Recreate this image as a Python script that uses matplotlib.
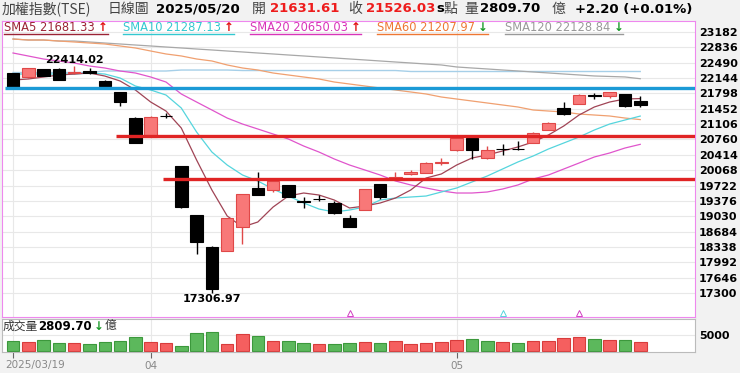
import matplotlib
matplotlib.use('Agg')
import matplotlib.pyplot as plt
from matplotlib.lines import Line2D
from matplotlib.transforms import blended_transform_factory

W, H = 740, 373
CJK = ['Noto Sans CJK TC', 'DejaVu Sans']

# daily candles 2025/03/19 .. 2025/05/20 (42 sessions)
opens = [22251, 22161, 22341, 22341, 22250, 22305, 22085, 21837, 21250, 20822,
         21300, 20162, 19057, 18343, 18252, 18780, 19673, 19621, 19733, 19370,
         19420, 19334, 18996, 19170, 19749, 19890, 19975, 20011, 20230, 20522,
         20800, 20335, 20555, 20545, 20687, 20973, 21462, 21559, 21760, 21739,
         21785, 21631.61]
highs = [22260, 22370, 22350, 22360, 22414.02, 22377, 22090, 21840, 21260, 21290,
         21356, 20170, 19060, 18365, 19000, 19540, 20020, 19840, 19740, 19470,
         19508, 19380, 19050, 19650, 19760, 20020, 20070, 20245, 20342, 20810,
         20860, 20610, 20658, 20732, 20930, 21150, 21611, 21775, 21814, 21830,
         21790, 21740]
lows = [21940, 22150, 22180, 22090, 22229, 22229, 21960, 21514, 20680, 20815,
        21243, 19208, 18178, 17306.97, 18240, 18403, 19500, 19576, 19460, 19208,
        19373, 19080, 18780, 19160, 19410, 19885, 19970, 20000, 20184, 20510,
        20313, 20330, 20410, 20530, 20680, 20965, 21320, 21550, 21665, 21688,
        21490, 21500]
closes = [21949, 22364, 22190, 22100, 22280, 22255, 21965, 21597, 20687, 21259,
          21289, 19231, 18455, 17382, 18983, 19531, 19508, 19830, 19470, 19357,
          19411, 19109, 18793, 19636, 19470, 19914, 20033, 20236, 20250, 20800,
          20530, 20515, 20548, 20540, 20912, 21138, 21327, 21762, 21746, 21823,
          21523.83, 21526.03]

# volume (億) and its colour (r = up day, g = down day)
volumes = [3219, 2812, 3437, 2500, 2500, 2281, 2719, 3219, 4281, 2812,
           2500, 1562, 5625, 5844, 2187, 5219, 4687, 3031, 3031, 2500,
           2187, 2187, 2500, 2812, 2500, 3031, 2281, 2500, 2719, 3437,
           3854, 3219, 2719, 2500, 3031, 3031, 4062, 4281, 3656, 3437,
           3437, 2809.70]
vol_dir = ['g', 'r', 'g', 'g', 'r', 'g', 'g', 'g', 'g', 'r',
           'r', 'g', 'g', 'g', 'r', 'r', 'g', 'r', 'g', 'g',
           'r', 'g', 'g', 'r', 'g', 'r', 'r', 'r', 'r', 'r',
           'g', 'g', 'r', 'g', 'r', 'r', 'r', 'r', 'g', 'r',
           'g', 'r']

sma5 = [22100, 22123, 22168, 22213, 22235, 22258, 22190, 22078, 21875, 21604,
        21401, 21018, 20297, 19621, 19035, 18787, 18899, 19237, 19485, 19553,
        19508, 19395, 19215, 19260, 19328, 19440, 19621, 19891, 19982, 20184,
        20342, 20410, 20500, 20590, 20703, 20861, 21063, 21311, 21492, 21604,
        21672, 21681.33]
sma10 = [22235, 22235, 22235, 22235, 22235, 22258, 22235, 22145, 21965, 21875,
         21762, 21469, 20928, 20477, 20184, 19959, 19824, 19643, 19485, 19328,
         19192, 19125, 19170, 19237, 19395, 19440, 19463, 19485, 19576, 19666,
         19801, 19936, 20094, 20252, 20387, 20545, 20680, 20815, 20973, 21108,
         21198, 21287.13]
sma20 = [22709, 22641, 22573, 22528, 22483, 22416, 22371, 22303, 22258, 22168,
         22055, 21785, 21604, 21424, 21243, 21108, 20996, 20883, 20770, 20612,
         20477, 20320, 20184, 20072, 19959, 19824, 19734, 19666, 19599, 19553,
         19553, 19576, 19643, 19734, 19869, 19959, 20094, 20229, 20365, 20455,
         20567, 20650.03]
sma60 = [23024, 23002, 23002, 22979, 22957, 22934, 22912, 22867, 22822, 22754,
         22687, 22642, 22574, 22529, 22439, 22371, 22326, 22258, 22213, 22168,
         22123, 22055, 22010, 21965, 21920, 21875, 21830, 21785, 21717, 21672,
         21627, 21582, 21537, 21492, 21424, 21401, 21379, 21334, 21311, 21289,
         21243, 21207.97]
sma120 = [23024, 23002, 23002, 22979, 22979, 22957, 22934, 22912, 22889, 22867,
          22844, 22822, 22799, 22777, 22754, 22732, 22709, 22687, 22664, 22642,
          22619, 22597, 22574, 22552, 22529, 22506, 22484, 22461, 22439, 22394,
          22371, 22349, 22326, 22304, 22281, 22259, 22236, 22214, 22191, 22180,
          22169, 22128.84]
long_line = [22269, 22269, 22269, 22269, 22269, 22269, 22303, 22303, 22303, 22303,
             22303, 22325, 22325, 22325, 22325, 22314, 22314, 22314, 22314, 22314,
             22314, 22314, 22314, 22314, 22314, 22314, 22292, 22292, 22292, 22292,
             22292, 22292, 22292, 22292, 22292, 22292, 22292, 22292, 22292, 22292,
             22292, 22292]

# horizontal support / resistance lines
blue_level = 21913
red_levels = [20845, 19869]
red_starts = [6.7, 9.8]

y_ticks = [17300, 17646, 17992, 18338, 18684, 19030, 19376, 19722, 20068,
           20414, 20760, 21106, 21452, 21798, 22144, 22490, 22836, 23182]
x_ticks = [0, 9, 29]
x_labels = ['', '04', '05']
up_marks_mag = [22, 37]
up_marks_cyan = [32]

x = list(range(len(closes)))
xlim = (-0.72, 44.58)

fig = plt.figure(figsize=(W / 100, H / 100), dpi=100)
fig.patch.set_facecolor('#f2f2f2')

ax = fig.add_axes([2 / W, 1 - 316.7 / H, 693 / W, 296 / H])
ax.set_facecolor('white')
ax.set_xlim(*xlim)
ax.set_ylim(16765, 23437)
for s in ax.spines.values():
    s.set_color('#ee88ee')
ax.set_xticks([])
ax.yaxis.tick_right()
ax.set_yticks(y_ticks)
ax.set_yticklabels([str(v) for v in y_ticks], fontsize=8, fontweight='bold')
ax.tick_params(axis='y', length=0, pad=3)
for v in y_ticks:
    ax.axhline(v, color='#e8e8e8', lw=0.8, zorder=0)
for v in x_ticks:
    ax.axvline(v, color='#e8e8e8', lw=0.8, zorder=0)

# moving averages
ax.plot(x, long_line, color='#a6cfe8', lw=1, zorder=1)
ax.plot(x, sma120, color='#a8a8a8', lw=0.9, zorder=1)
ax.plot(x, sma60, color='#f0a070', lw=0.9, zorder=1)
ax.plot(x, sma20, color='#e055cc', lw=0.9, zorder=1)
ax.plot(x, sma10, color='#55d5dd', lw=0.9, zorder=1)
ax.plot(x, sma5, color='#a04455', lw=0.9, zorder=1)

# candles
for i in x:
    o, c = opens[i], closes[i]
    up = c > o
    face = '#f87878' if up else 'black'
    edge = '#e04848' if up else 'black'
    ax.vlines(i, lows[i], highs[i], color=edge, lw=1, zorder=2)
    ax.bar(i, max(abs(c - o), 8), bottom=min(o, c), width=0.82,
           color=face, edgecolor=edge, lw=0.8, zorder=3)

ax.hlines(blue_level, -0.5, xlim[1], color='#1b9ad6', lw=2.4, zorder=4)
for lv, st in zip(red_levels, red_starts):
    ax.hlines(lv, st, xlim[1], color='#e02424', lw=2.4, zorder=4)

ax.annotate('22414.02', (4, highs[4]), xytext=(0, 0.5), textcoords='offset points',
            ha='center', va='bottom', fontsize=8, fontweight='bold', zorder=5)
ax.annotate('17306.97', (13, lows[13]), xytext=(0, -1), textcoords='offset points',
            ha='center', va='top', fontsize=8, fontweight='bold', zorder=5)

bt = blended_transform_factory(ax.transData, ax.transAxes)
ax.plot(up_marks_mag, [0.012] * len(up_marks_mag), transform=bt, ls='none',
        marker='^', ms=5, mfc='none', mec='#d040c0', mew=0.7, clip_on=False)
ax.plot(up_marks_cyan, [0.012] * len(up_marks_cyan), transform=bt, ls='none',
        marker='^', ms=5, mfc='none', mec='#55d5dd', mew=0.7, clip_on=False)

# volume panel
axv = fig.add_axes([2 / W, 1 - 351.7 / H, 693 / W, 32.4 / H])
axv.set_facecolor('white')
axv.set_xlim(*xlim)
axv.set_ylim(-220, 9906)
for s in axv.spines.values():
    s.set_color('#bbbbbb')
axv.axhline(5000, color='#e8e8e8', lw=0.8, zorder=0)
for v in x_ticks:
    axv.axvline(v, color='#e8e8e8', lw=0.8, zorder=0)
vface = ['#f55f5f' if d == 'r' else '#5cb85c' for d in vol_dir]
vedge = ['#d83c3c' if d == 'r' else '#3c983c' for d in vol_dir]
axv.bar(x, volumes, width=0.82, color=vface, edgecolor=vedge, lw=0.8, zorder=2)
axv.yaxis.tick_right()
axv.set_yticks([5000])
axv.set_yticklabels(['5000'], fontsize=8, fontweight='bold')
axv.tick_params(axis='y', length=0, pad=3)
axv.set_xticks(x_ticks)
axv.set_xticklabels(x_labels, fontsize=7.5, color='#888888')
axv.tick_params(axis='x', length=4, color='#666666', pad=2.5)
fig.text(5 / W, 1 - 365 / H, '2025/03/19', fontsize=7.5, color='#888888',
         ha='left', va='center')


def ftext(px, py, s, **kw):
    return fig.text(px / W, 1 - py / H, s, ha='left', va='center', **kw)


# header row
ftext(2, 9, '加權指數(TSE)', family=CJK, fontsize=10, color='#444444')
ftext(108, 9, '日線圖', family=CJK, fontsize=10, color='#444444')
ftext(156, 9, '2025/05/20', fontsize=9.6, fontweight='bold')
ftext(252, 9, '開', family=CJK, fontsize=10, color='#444444')
ftext(270, 9, '21631.61', fontsize=9.5, fontweight='bold', color='#ee1c1c')
ftext(348, 9, '收', family=CJK, fontsize=10, color='#444444')
ftext(366, 9, '21526.03', fontsize=9.5, fontweight='bold', color='#ee1c1c')
ftext(436, 9, 's', fontsize=9.5, fontweight='bold')
ftext(443, 9, '點', family=CJK, fontsize=10, color='#444444')
ftext(464, 9, '量', family=CJK, fontsize=10, color='#444444')
ftext(480, 9, '2809.70', fontsize=9.5, fontweight='bold')
ftext(552, 9, '億', family=CJK, fontsize=10, color='#444444')
ftext(575, 9, '+2.20 (+0.01%)', fontsize=9.5, fontweight='bold')

# MA legend row
legend = [(4, 'SMA5 21681.33', '#9b2335', True),
          (123, 'SMA10 21287.13', '#33c8d0', True),
          (250, 'SMA20 20650.03', '#d835b8', True),
          (377, 'SMA60 21207.97', '#ee7733', False),
          (505, 'SMA120 22128.84', '#999999', False)]
r = fig.canvas.get_renderer()
for px, s, col, rising in legend:
    t = ftext(px, 27.5, s, fontsize=8.3, color=col)
    bb = t.get_window_extent(renderer=r)
    a = ftext(bb.x1 + 3, 27.5, '↑' if rising else '↓', fontsize=8.5,
              fontweight='bold', color='#e01010' if rising else '#1a9a2a')
    ab = a.get_window_extent(renderer=r)
    fig.add_artist(Line2D([px / W, ab.x1 / W], [1 - 33.5 / H] * 2,
                          color=col, lw=1))

# volume label
ftext(3, 326.7, '成交量', family=CJK, fontsize=8.5, color='#333333')
t = ftext(38, 326.7, '2809.70', fontsize=8.5, fontweight='bold')
bb = t.get_window_extent(renderer=r)
a = ftext(bb.x1 + 2, 326.7, '↓', fontsize=8.5, fontweight='bold', color='#1a9a2a')
ab = a.get_window_extent(renderer=r)
ftext(ab.x1 + 1, 326.7, '億', family=CJK, fontsize=8.5, color='#333333')

fig.savefig('out.png', dpi=100, facecolor=fig.get_facecolor())
